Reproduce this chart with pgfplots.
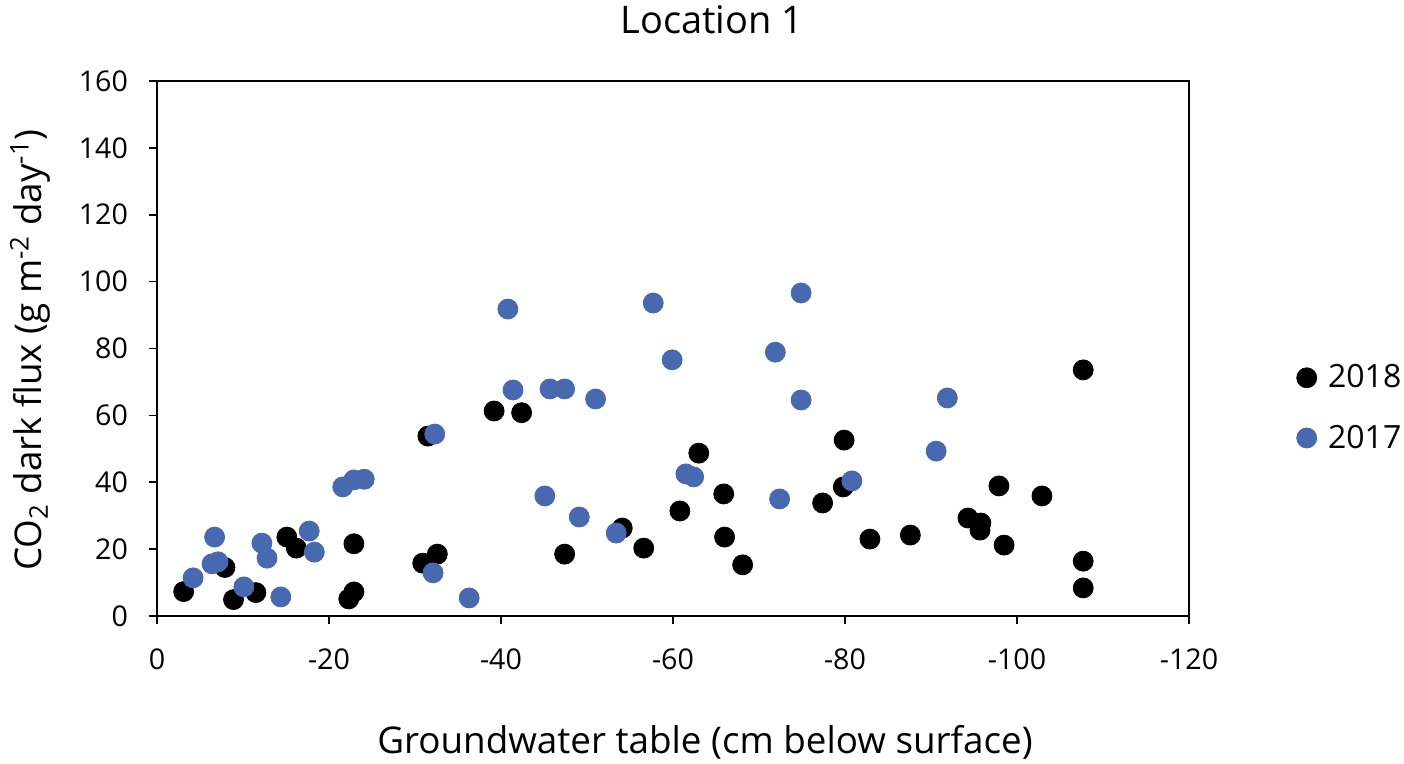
\documentclass[border=0pt]{standalone}
\usepackage{pgfplots}
\pgfplotsset{compat=1.18}
\usepackage{fontspec}
\setmainfont{Open Sans}
\definecolor{blueS}{RGB}{72,104,176}
\begin{document}
\begin{tikzpicture}
\useasboundingbox (-78.5pt,-74pt) rectangle (623.5pt,308pt);
\begin{axis}[
  at={(0pt,0pt)}, anchor=south west,
  scale only axis, width=516pt, height=267.5pt,
  xmin=-120, xmax=0, x dir=reverse, ymin=0, ymax=160,
  xtick={0,-20,-40,-60,-80,-100,-120}, ytick={0,20,40,60,80,100,120,140,160},
  tick pos=left, tick align=outside, major tick length=4pt,
  axis line style={line width=0.9pt}, every tick/.style={line width=0.8pt, black},
  /pgf/number format/assume math mode=true,
  tick label style={font=\fontsize{14.3}{16}\selectfont},
  yticklabel style={xshift=-7pt},
  xticklabel style={yshift=-9pt},
  clip=false,
  legend style={draw=none, fill=none, at={(1.104,0.389)}, anchor=west,
    font=\fontsize{16}{19}\selectfont, row sep=13pt, inner sep=0pt},
  legend cell align=left,
  legend image code/.code={\draw[#1] plot coordinates {(0.3cm,0cm)};\path (0.3cm+8.5pt,0cm);},
]
\addplot[only marks, mark=*, mark size=5pt, draw=black, fill=black] coordinates {
(-3.1,7.3) (-7.9,14.5) (-8.9,4.9) (-11.5,7.0) (-15.1,23.6) (-16.2,20.3)
(-22.9,21.6) (-22.3,5.1) (-22.9,7.2) (-30.9,15.8) (-32.6,18.5) (-31.5,53.8)
(-39.2,61.3) (-42.4,60.8) (-47.4,18.5) (-54.1,26.3) (-56.6,20.3) (-60.8,31.4)
(-63.0,48.7) (-65.9,36.5) (-66.0,23.6) (-68.1,15.3) (-77.4,33.8) (-79.8,38.6)
(-79.9,52.6) (-82.9,23.0) (-87.6,24.2) (-94.3,29.3) (-95.8,27.8) (-95.7,25.7)
(-97.9,38.9) (-98.5,21.2) (-102.9,35.9) (-107.7,73.6) (-107.7,16.4) (-107.7,8.4)
};
\addlegendentry{2018}
\addplot[only marks, mark=*, mark size=5pt, draw=blueS, fill=blueS] coordinates {
(-4.2,11.4) (-6.7,23.6) (-6.4,15.6) (-7.1,16.2) (-10.1,8.7) (-12.2,21.8)
(-12.8,17.3) (-14.4,5.7) (-17.7,25.4) (-18.3,19.1) (-21.6,38.6) (-22.9,40.7)
(-24.1,40.9) (-32.3,54.4) (-32.1,12.9) (-36.3,5.4)
(-40.8,91.8) (-57.7,93.6) (-74.9,96.6) (-71.9,78.9) (-59.9,76.6) (-41.4,67.6)
(-45.7,67.9) (-47.4,67.9) (-51.0,64.9) (-74.9,64.6) (-45.1,35.9) (-49.1,29.6)
(-53.4,24.8) (-61.5,42.5) (-62.4,41.6) (-72.4,35.0)
(-91.9,65.2) (-90.6,49.3) (-80.8,40.4)
};
\addlegendentry{2017}
\end{axis}
\node[font=\fontsize{19}{22}\selectfont] at (277.5pt,298pt) {Location 1};
\node[font=\fontsize{18.4}{21}\selectfont] at (274pt,-63pt) {Groundwater table (cm below surface)};
\node[font=\fontsize{18.4}{21}\selectfont, rotate=90] at (-63.5pt,133pt) {CO\textsubscript{2} dark flux (g m\textsuperscript{-2} day\textsuperscript{-1})};
\end{tikzpicture}
\end{document}
